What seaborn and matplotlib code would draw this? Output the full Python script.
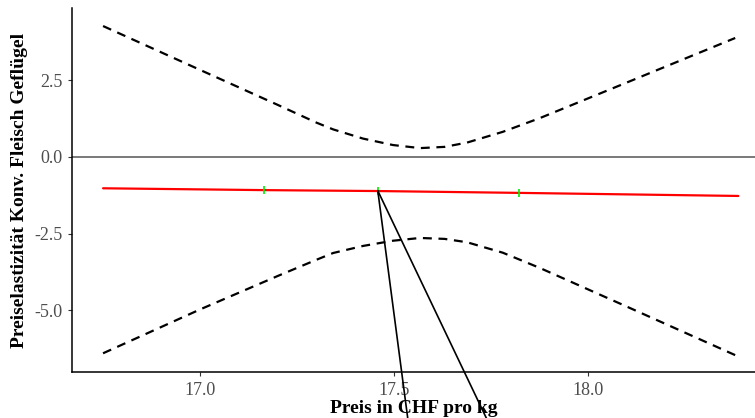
import matplotlib
matplotlib.use("Agg")
import matplotlib.pyplot as plt
import seaborn as sns
import pandas as pd

# Daten
preis_band = [16.75, 17.0, 17.2, 17.30, 17.343, 17.42, 17.497, 17.567,
              17.63, 17.688, 17.78, 17.876, 18.1, 18.379]
ki_oben = [4.27, 2.84, 1.70, 1.12, 0.90, 0.60, 0.39, 0.29,
           0.33, 0.47, 0.82, 1.27, 2.43, 3.88]
ki_unten = [-6.40, -4.97, -3.88, -3.35, -3.13, -2.90, -2.73, -2.64,
            -2.67, -2.78, -3.12, -3.62, -4.88, -6.46]

preis_linie = [16.75, 17.165, 17.458, 17.822, 18.387]
elastizitaet = [-1.02, -1.08, -1.11, -1.17, -1.27]

preis_punkte = [17.165, 17.458, 17.822]
elast_punkte = [-1.08, -1.11, -1.17]

# Linien vom Punkt aus nach unten
seg_start = (17.458, -1.10)
seg_enden = [(17.536, -8.6), (17.741, -8.6)]

df_band = pd.DataFrame({"preis": preis_band, "oben": ki_oben, "unten": ki_unten})
df_linie = pd.DataFrame({"preis": preis_linie, "e": elastizitaet})
df_punkte = pd.DataFrame({"preis": preis_punkte, "e": elast_punkte})

sns.set_theme(style="ticks")
plt.rcParams["font.family"] = ["Liberation Serif", "DejaVu Serif"]

fig = plt.figure(figsize=(7.55, 4.18), dpi=100)
ax = fig.add_axes([72 / 755, 46 / 418, 683 / 755, 364 / 418])

ax.axhline(0, color="#555555", linewidth=1.1, zorder=1)

sns.lineplot(data=df_band, x="preis", y="oben", ax=ax, color="black",
             linewidth=1.6, linestyle=(0, (4, 3)), zorder=2)
sns.lineplot(data=df_band, x="preis", y="unten", ax=ax, color="black",
             linewidth=1.6, linestyle=(0, (4, 3)), zorder=2)
sns.lineplot(data=df_linie, x="preis", y="e", ax=ax, color="red",
             linewidth=1.6, zorder=3)
sns.scatterplot(data=df_punkte, x="preis", y="e", ax=ax, marker="|",
                color="#00ee00", s=40, linewidth=1.2, zorder=4)

for x_end, y_end in seg_enden:
    ax.plot([seg_start[0], x_end], [seg_start[1], y_end], color="black",
            linewidth=1.2, clip_on=False, zorder=5)

ax.set_xlim(16.670, 18.430)
ax.set_ylim(-7.01, 4.858)
ax.set_xticks([17.0, 17.5, 18.0])
ax.set_yticks([-5.0, -2.5, 0.0, 2.5])
ax.set_xticklabels(["17.0", "17.5", "18.0"])
ax.set_yticklabels(["-5.0", "-2.5", "0.0", "2.5"])

ax.tick_params(axis="both", colors="#333333", labelcolor="#4d4d4d",
               labelsize=13, length=3, width=0.8)
ax.tick_params(axis="x", pad=4)
for s in ["top", "right"]:
    ax.spines[s].set_visible(False)
for s in ["left", "bottom"]:
    ax.spines[s].set_color("black")
    ax.spines[s].set_linewidth(1.1)

ax.set_xlabel("Preis in CHF pro kg", fontsize=14, fontweight="bold",
              color="black", labelpad=1)
ax.set_ylabel("Preiselastizität Konv. Fleisch Geflügel", fontsize=14,
              fontweight="bold", color="black", labelpad=5)

fig.savefig("out.png", dpi=100)
